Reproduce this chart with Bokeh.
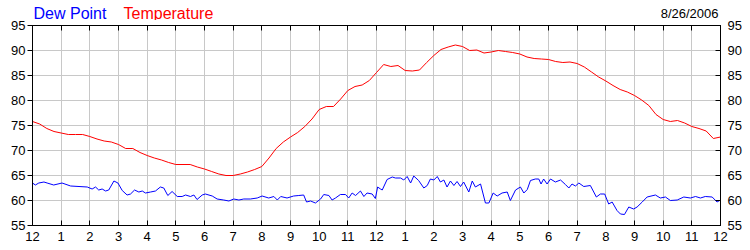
from bokeh.plotting import figure
from bokeh.models import Range1d, LinearAxis, FixedTicker, Label
from bokeh.layouts import column
from bokeh.embed import file_html
from bokeh.resources import INLINE

# ---- data (hours since midnight) ----
temp_hours = [i * 0.25 for i in range(97)]
temp_values = [
    75.8, 75.3, 74.4, 73.8, 73.5, 73.2, 73.2, 73.2, 72.8, 72.3, 71.9, 71.7,
    71.2, 70.4, 70.4, 69.6, 69.0, 68.5, 68.1, 67.6, 67.2, 67.2, 67.2, 66.7,
    66.3, 65.8, 65.3, 65.0, 65.0, 65.3, 65.7, 66.2, 66.8, 68.5, 70.4, 71.7,
    72.7, 73.6, 74.8, 76.3, 78.2, 78.8, 78.8, 80.3, 82.0, 82.8, 83.1, 84.0,
    85.6, 87.2, 86.8, 87.0, 86.0, 85.9, 86.1, 87.6, 89.0, 90.2, 90.7, 91.1,
    90.8, 90.0, 90.1, 89.5, 89.7, 90.0, 89.8, 89.6, 89.3, 88.7, 88.4, 88.3,
    88.2, 87.8, 87.6, 87.7, 87.4, 86.7, 85.7, 84.7, 83.9, 83.0, 82.2, 81.7,
    81.0, 80.1, 79.0, 77.2, 76.2, 75.8, 76.0, 75.5, 74.8, 74.4, 73.9, 72.4,
    72.7,
]

dew_hours = [
    0.0, 0.1, 0.22, 0.4, 0.51, 0.74, 1.03, 1.33, 1.91, 2.08, 2.2, 2.31, 2.43,
    2.55, 2.66, 2.84, 2.98, 3.13, 3.3, 3.42, 3.56, 3.71, 3.83, 3.94, 4.12,
    4.29, 4.46, 4.58, 4.72, 4.87, 5.05, 5.22, 5.34, 5.51, 5.63, 5.74, 5.92,
    6.03, 6.27, 6.44, 6.67, 6.85, 7.02, 7.2, 7.37, 7.6, 7.84, 8.01, 8.24,
    8.42, 8.54, 8.66, 8.88, 9.11, 9.29, 9.46, 9.56, 9.7, 9.87, 10.05, 10.16,
    10.34, 10.45, 10.57, 10.74, 10.92, 11.03, 11.15, 11.27, 11.44, 11.56,
    11.67, 11.85, 11.96, 12.04, 12.14, 12.2, 12.37, 12.55, 12.66, 12.84,
    12.95, 13.07, 13.19, 13.3, 13.47, 13.65, 13.77, 13.88, 14.0, 14.12,
    14.23, 14.35, 14.46, 14.58, 14.7, 14.81, 14.93, 15.04, 15.22, 15.34,
    15.45, 15.63, 15.8, 15.92, 16.07, 16.21, 16.38, 16.56, 16.67, 16.85,
    17.02, 17.14, 17.26, 17.37, 17.54, 17.66, 17.74, 17.83, 17.95, 18.07,
    18.24, 18.42, 18.59, 18.71, 18.82, 18.94, 19.06, 19.23, 19.46, 19.67,
    19.81, 19.96, 20.1, 20.22, 20.39, 20.51, 20.65, 20.8, 20.97, 21.09,
    21.27, 21.44, 21.73, 21.9, 22.08, 22.25, 22.49, 22.72, 22.95, 23.13,
    23.3, 23.47, 23.71, 23.88, 24.0,
]
dew_values = [
    63.5, 63.1, 63.5, 63.7, 63.5, 63.1, 63.5, 62.9, 62.7, 62.3, 62.7, 62.1, 62.3,
    61.9, 62.1, 63.9, 63.5, 62.0, 61.1, 61.3, 62.1, 61.7, 61.9, 61.5, 61.7,
    61.9, 62.7, 62.5, 61.0, 61.8, 60.8, 60.8, 61.1, 60.8, 61.1, 60.2, 61.1,
    61.3, 60.9, 60.3, 60.1, 59.9, 60.3, 60.1, 60.3, 60.3, 60.5, 60.9, 60.5,
    60.8, 60.1, 60.8, 60.5, 60.9, 61.0, 61.1, 59.7, 59.9, 59.5, 60.3, 61.2,
    61.0, 60.1, 60.5, 61.2, 61.2, 60.5, 61.5, 61.0, 61.9, 60.8,
    61.5, 61.3, 60.4, 62.7, 62.3, 62.1, 64.2, 64.7, 64.5, 64.5,
    64.1, 64.8, 63.5, 64.9, 64.0, 62.5, 63.0, 64.3, 64.1, 64.8,
    63.7, 64.1, 62.7, 63.9, 63.0, 63.8, 62.8, 63.7, 61.7, 63.9,
    62.7, 63.3, 59.5, 59.5, 61.5, 60.9, 61.5, 61.7, 60.0, 62.1,
    62.7, 61.5, 62.2, 64.0, 64.3, 64.3, 63.3, 64.3, 63.3, 64.3,
    63.7, 64.1, 63.2, 62.5, 63.3, 62.9, 63.5, 62.8, 63.0, 60.7,
    61.3, 61.3, 59.3, 59.7, 58.0, 57.3, 57.2, 58.7, 58.3, 58.7,
    59.7, 60.7, 61.1, 60.5, 60.7, 60.0, 60.1, 60.7, 60.5, 60.8,
    60.5, 60.8, 60.7, 59.7, 60.1,
]

hour_ticks = list(range(25))
hour_labels = ["12", "1", "2", "3", "4", "5", "6", "7", "8", "9", "10", "11",
               "12", "1", "2", "3", "4", "5", "6", "7", "8", "9", "10", "11", "12"]
y_ticks = [55, 60, 65, 70, 75, 80, 85, 90, 95]
title_dew = "Dew Point"
title_temp = "Temperature"
date_text = "8/26/2006"

FONT = "Liberation Sans"
LBL = "13px"

# ---- header strip with the coloured titles and the date ----
head = figure(width=750, height=20, output_backend="svg", toolbar_location=None,
              x_range=Range1d(0, 24), y_range=Range1d(0, 20),
              min_border_left=32, min_border_right=30,
              min_border_top=0, min_border_bottom=0,
              background_fill_color="white", border_fill_color="white")
head.axis.visible = False
head.grid.visible = False
head.outline_line_color = None
head.add_layout(Label(x=0, y=7.5, x_offset=1, text=title_dew,
                      text_color="#0000ff", text_font=FONT, text_font_size="16px",
                      text_baseline="alphabetic", text_align="left"))
head.add_layout(Label(x=0, y=7.5, x_offset=91, text=title_temp,
                      text_color="#ff0000", text_font=FONT, text_font_size="16px",
                      text_baseline="alphabetic", text_align="left"))
head.add_layout(Label(x=24, y=7.3, x_offset=-2, text=date_text,
                      text_color="black", text_font=FONT, text_font_size="13px",
                      text_baseline="alphabetic", text_align="right"))

# ---- main chart ----
p = figure(width=750, height=230, output_backend="svg", toolbar_location=None,
           x_range=Range1d(0, 24), y_range=Range1d(55, 95),
           min_border_left=32, min_border_right=30,
           min_border_top=5, min_border_bottom=25,
           background_fill_color="white", border_fill_color="white")
p.outline_line_color = "black"
p.outline_line_width = 1

p.xgrid.ticker = FixedTicker(ticks=hour_ticks)
p.ygrid.ticker = FixedTicker(ticks=y_ticks)
p.grid.grid_line_color = "#c8c8c8"
p.grid.grid_line_width = 1

xa = p.xaxis[0]
xa.ticker = FixedTicker(ticks=hour_ticks)
xa.major_label_overrides = {i: hour_labels[i] for i in hour_ticks}
xa.major_tick_in = 5
xa.major_tick_out = 0
xa.minor_tick_line_color = None
xa.major_label_standoff = 6
xa.major_label_text_font = FONT
xa.major_label_text_font_size = LBL
xa.major_label_text_color = "black"
xa.axis_line_color = "black"

ya = p.yaxis[0]
ya.ticker = FixedTicker(ticks=y_ticks)
ya.major_tick_in = 0
ya.major_tick_out = 5
ya.minor_tick_line_color = None
ya.major_label_standoff = 2
ya.major_label_text_font = FONT
ya.major_label_text_font_size = LBL
ya.major_label_text_color = "black"
ya.axis_line_color = "black"

ra = LinearAxis(ticker=FixedTicker(ticks=y_ticks))
ra.major_tick_in = 5
ra.major_tick_out = 0
ra.minor_tick_line_color = None
ra.major_label_standoff = 7
ra.major_label_text_font = FONT
ra.major_label_text_font_size = LBL
ra.major_label_text_color = "black"
ra.axis_line_color = "black"
p.add_layout(ra, "right")

# top axis: inward ticks only
ta = LinearAxis(ticker=FixedTicker(ticks=hour_ticks))
ta.major_tick_in = 5
ta.major_tick_out = 0
ta.minor_tick_line_color = None
ta.major_label_overrides = {i: "" for i in hour_ticks}
ta.major_label_text_font_size = "0px"
ta.major_label_standoff = 0
ta.axis_line_color = "black"
p.add_layout(ta, "above")

p.line(dew_hours, dew_values, line_color="#0000ff", line_width=1)
p.line(temp_hours, temp_values, line_color="#ff0000", line_width=1)

layout = column(head, p, spacing=0)
open("out.html", "w").write(file_html(layout, INLINE))
